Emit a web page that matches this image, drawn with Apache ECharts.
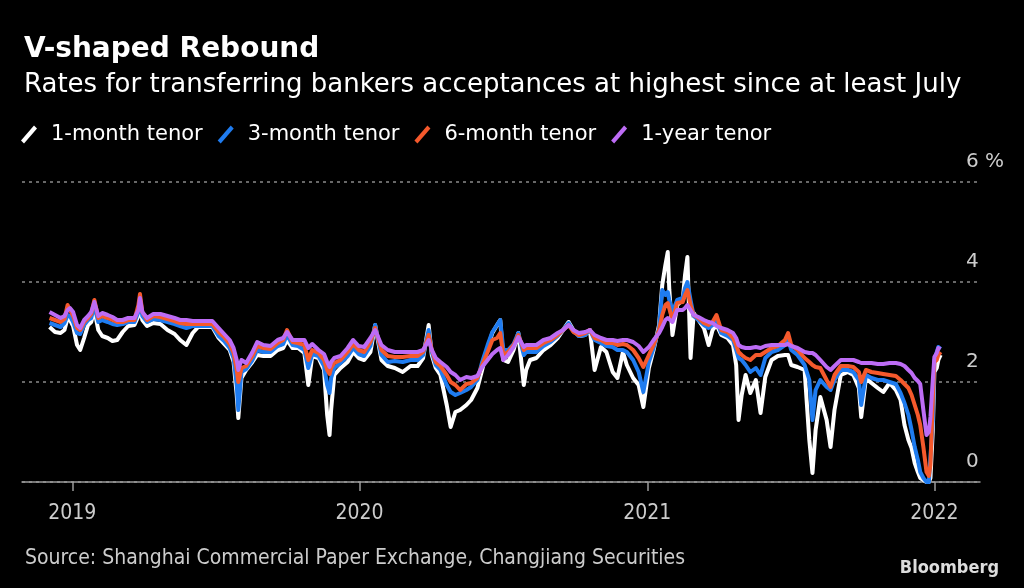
<!DOCTYPE html>
<html>
<head>
<meta charset="utf-8">
<script src="https://cdn.jsdelivr.net/npm/echarts@6/dist/echarts.min.js"></script>
<style>
  html, body { margin: 0; padding: 0; background: #000; }
  #main { width: 1024px; height: 588px; }
</style>
</head>
<body>
<div id="main"></div>
<script>
var dates = ['2018-12-03','2018-12-10','2018-12-17','2018-12-22','2018-12-26','2018-12-29','2019-01-02','2019-01-07','2019-01-11','2019-01-16',
  '2019-01-21','2019-01-25','2019-01-29','2019-02-03','2019-02-08','2019-02-15','2019-02-21','2019-02-27','2019-03-06','2019-03-13',
  '2019-03-21','2019-03-26','2019-03-28','2019-03-31','2019-04-06','2019-04-14','2019-04-23','2019-05-02','2019-05-11','2019-05-18',
  '2019-05-26','2019-06-03','2019-06-10','2019-06-19','2019-06-28','2019-07-06','2019-07-13','2019-07-20','2019-07-25','2019-07-29',
  '2019-07-31','2019-08-04','2019-08-10','2019-08-18','2019-08-24','2019-09-01','2019-09-10','2019-09-19','2019-09-26','2019-10-01',
  '2019-10-08','2019-10-15','2019-10-23','2019-10-28','2019-11-02','2019-11-10','2019-11-17','2019-11-21','2019-11-24','2019-11-26',
  '2019-11-30','2019-12-08','2019-12-17','2019-12-24','2019-12-31','2020-01-07','2020-01-15','2020-01-21','2020-01-29','2020-02-06',
  '2020-02-15','2020-02-25','2020-03-06','2020-03-15','2020-03-22','2020-03-29','2020-04-02','2020-04-07','2020-04-13','2020-04-21',
  '2020-04-26','2020-05-02','2020-05-08','2020-05-16','2020-05-22','2020-05-30','2020-06-05','2020-06-12','2020-06-18','2020-06-24',
  '2020-06-28','2020-07-02','2020-07-08','2020-07-15','2020-07-21','2020-07-28','2020-07-31','2020-08-05','2020-08-13','2020-08-22',
  '2020-08-31','2020-09-09','2020-09-16','2020-09-23','2020-09-29','2020-10-06','2020-10-14','2020-10-20','2020-10-26','2020-11-03',
  '2020-11-10','2020-11-18','2020-11-24','2020-12-01','2020-12-06','2020-12-14','2020-12-21','2020-12-27','2021-01-03','2021-01-09',
  '2021-01-16','2021-01-20','2021-01-24','2021-01-27','2021-01-29','2021-02-02','2021-02-08','2021-02-15','2021-02-18','2021-02-21',
  '2021-02-25','2021-03-01','2021-03-07','2021-03-14','2021-03-20','2021-03-25','2021-03-30','2021-04-05','2021-04-13','2021-04-20',
  '2021-04-24','2021-04-27','2021-05-01','2021-05-06','2021-05-12','2021-05-19','2021-05-25','2021-05-31','2021-06-08','2021-06-16',
  '2021-06-25','2021-06-29','2021-07-03','2021-07-11','2021-07-20','2021-07-26','2021-07-30','2021-08-03','2021-08-09','2021-08-17',
  '2021-08-22','2021-08-27','2021-09-04','2021-09-13','2021-09-20','2021-09-27','2021-09-30','2021-10-06','2021-10-13','2021-10-21',
  '2021-10-28','2021-11-05','2021-11-13','2021-11-19','2021-11-24','2021-11-29','2021-12-03','2021-12-07','2021-12-11','2021-12-14',
  '2021-12-18','2021-12-22','2021-12-25','2021-12-27','2021-12-30','2022-01-01','2022-01-04','2022-01-06','2022-01-09'];

// 1-month tenor (white)
var oneMonth = [3.10,3.00,2.98,3.04,3.28,3.24,3.12,2.74,2.64,2.88,
  3.14,3.20,3.44,3.04,2.92,2.88,2.82,2.84,3.00,3.12,
  3.14,3.32,3.54,3.24,3.12,3.18,3.16,3.04,2.96,2.84,
  2.74,2.98,3.10,3.10,3.10,2.88,2.76,2.64,2.40,1.74,
  1.28,2.08,2.24,2.40,2.54,2.52,2.52,2.64,2.68,2.84,
  2.68,2.68,2.58,1.94,2.52,2.48,2.24,1.34,0.94,1.44,
  2.14,2.28,2.40,2.60,2.48,2.44,2.60,3.14,2.44,2.32,
  2.28,2.20,2.32,2.32,2.48,3.14,2.54,2.28,2.14,1.54,
  1.10,1.40,1.44,1.54,1.64,1.88,2.24,2.68,2.98,3.14,
  3.24,2.44,2.40,2.64,2.98,1.94,2.24,2.44,2.48,2.64,
  2.74,2.88,3.04,3.20,3.04,2.92,2.94,3.04,2.24,2.70,
  2.60,2.20,2.08,2.60,2.34,2.08,1.94,1.50,2.28,2.64,
  3.14,3.94,4.34,4.60,3.84,2.94,3.54,3.64,4.14,4.50,
  2.48,3.38,3.24,3.08,2.74,3.04,3.14,2.94,2.88,2.74,
  2.34,1.24,1.74,2.14,1.78,2.04,1.38,2.10,2.44,2.52,
  2.54,2.54,2.34,2.30,2.24,0.84,0.18,1.04,1.70,1.24,
  0.70,1.44,2.14,2.20,2.14,1.88,1.30,2.08,1.98,1.88,
  1.80,1.98,1.84,1.64,1.14,0.84,0.68,0.38,0.20,0.08,
  0.04,0.00,0.00,0.08,1.04,2.20,2.28,2.44,2.54];

// 3-month tenor (blue)
var threeMonth = [3.18,3.14,3.10,3.18,3.34,3.32,3.20,2.98,2.96,3.14,
  3.24,3.28,3.52,3.20,3.24,3.20,3.16,3.14,3.16,3.20,
  3.20,3.40,3.64,3.32,3.20,3.26,3.24,3.20,3.16,3.12,
  3.08,3.12,3.12,3.12,3.12,2.92,2.82,2.68,2.48,1.94,
  1.44,2.20,2.26,2.44,2.64,2.60,2.60,2.72,2.76,2.94,
  2.74,2.72,2.64,2.28,2.56,2.52,2.32,1.94,1.78,2.08,
  2.28,2.38,2.52,2.68,2.56,2.52,2.72,3.14,2.54,2.40,
  2.42,2.40,2.44,2.44,2.54,3.04,2.60,2.34,2.24,1.94,
  1.80,1.74,1.78,1.84,1.90,2.04,2.40,2.74,3.00,3.14,
  3.24,2.64,2.64,2.76,2.98,2.54,2.60,2.60,2.60,2.72,
  2.80,2.92,3.04,3.18,3.02,2.92,2.94,3.04,2.84,2.78,
  2.72,2.70,2.64,2.64,2.60,2.44,2.20,1.80,2.40,2.68,
  3.08,3.84,3.74,3.80,3.64,3.40,3.64,3.68,3.88,4.00,
  3.64,3.32,3.24,3.14,3.08,3.14,3.24,2.98,2.92,2.84,
  2.64,2.48,2.44,2.34,2.20,2.28,2.14,2.48,2.60,2.64,
  2.74,2.84,2.64,2.54,2.34,2.04,1.24,1.84,2.04,1.90,
  1.84,2.04,2.24,2.24,2.20,2.04,1.54,2.14,2.08,2.04,
  2.04,2.00,1.96,1.78,1.58,1.34,1.04,0.70,0.44,0.20,
  0.08,0.00,0.00,0.04,1.24,2.44,2.60,2.70,2.66];

// 6-month tenor (orange)
var sixMonth = [3.28,3.24,3.20,3.26,3.54,3.44,3.32,3.08,3.04,3.20,
  3.28,3.36,3.64,3.28,3.32,3.28,3.24,3.20,3.20,3.24,
  3.24,3.54,3.76,3.40,3.24,3.32,3.30,3.26,3.22,3.18,
  3.16,3.16,3.16,3.16,3.16,3.00,2.90,2.76,2.58,2.24,
  2.00,2.28,2.32,2.52,2.72,2.68,2.66,2.78,2.84,3.04,
  2.80,2.78,2.74,2.44,2.64,2.58,2.44,2.24,2.16,2.28,
  2.38,2.44,2.60,2.76,2.64,2.60,2.80,3.08,2.64,2.52,
  2.50,2.50,2.52,2.52,2.60,2.94,2.64,2.40,2.32,2.14,
  2.00,1.94,1.84,1.96,1.98,2.08,2.34,2.60,2.84,2.88,
  2.98,2.54,2.60,2.74,2.94,2.64,2.68,2.68,2.68,2.78,
  2.84,2.94,3.04,3.14,3.00,2.94,2.98,3.04,2.88,2.84,
  2.78,2.78,2.74,2.76,2.74,2.64,2.48,2.30,2.54,2.74,
  3.04,3.34,3.54,3.58,3.54,3.24,3.58,3.60,3.74,3.84,
  3.54,3.34,3.28,3.18,3.14,3.20,3.34,3.04,3.00,2.88,
  2.74,2.60,2.54,2.48,2.44,2.54,2.54,2.60,2.68,2.72,
  2.84,2.98,2.74,2.64,2.48,2.40,2.34,2.30,2.28,2.04,
  1.90,2.14,2.32,2.32,2.30,2.20,2.00,2.24,2.20,2.18,
  2.16,2.14,2.12,2.04,1.96,1.88,1.74,1.54,1.34,1.14,
  0.70,0.20,0.12,0.34,1.64,2.40,2.44,2.54,2.60];

// 1-year tenor (purple)
var oneYear = [3.40,3.34,3.28,3.32,3.44,3.48,3.40,3.14,3.08,3.24,
  3.32,3.40,3.60,3.32,3.38,3.34,3.30,3.24,3.24,3.28,
  3.28,3.44,3.68,3.40,3.28,3.36,3.36,3.32,3.28,3.24,
  3.24,3.22,3.22,3.22,3.22,3.08,2.96,2.84,2.68,2.44,
  2.24,2.44,2.38,2.60,2.80,2.74,2.72,2.84,2.88,3.00,
  2.84,2.84,2.84,2.68,2.76,2.64,2.56,2.40,2.30,2.40,
  2.48,2.52,2.68,2.84,2.72,2.70,2.88,3.04,2.74,2.64,
  2.60,2.60,2.60,2.60,2.64,2.84,2.64,2.48,2.40,2.30,
  2.20,2.14,2.04,2.10,2.08,2.12,2.30,2.44,2.56,2.64,
  2.68,2.44,2.54,2.70,2.90,2.70,2.74,2.74,2.74,2.84,
  2.88,2.98,3.04,3.14,3.04,2.98,3.00,3.04,2.94,2.88,
  2.84,2.84,2.82,2.84,2.84,2.80,2.72,2.60,2.70,2.84,
  2.98,3.10,3.24,3.28,3.28,3.20,3.44,3.44,3.48,3.54,
  3.44,3.34,3.30,3.24,3.20,3.18,3.12,3.08,3.04,2.98,
  2.88,2.74,2.70,2.68,2.68,2.70,2.68,2.72,2.74,2.74,
  2.74,2.76,2.72,2.68,2.60,2.58,2.58,2.54,2.44,2.30,
  2.24,2.32,2.44,2.44,2.44,2.40,2.38,2.38,2.38,2.36,
  2.36,2.38,2.38,2.36,2.32,2.24,2.18,2.08,2.02,1.96,
  1.44,0.94,1.00,1.30,2.04,2.50,2.58,2.68,2.66];

var seriesNames = ['1-month tenor', '3-month tenor', '6-month tenor', '1-year tenor'];
var seriesColors = ['#ffffff', '#1f7cf0', '#f5592c', '#bd6cf5'];
var yearTicks = ['2019-01-01', '2020-01-01', '2021-01-01', '2022-01-01'];
var xStart = '2018-10-29';
var xEnd = '2022-02-28';

var chartDom = document.getElementById('main');
var myChart = echarts.init(chartDom);

// dates are parsed as UTC timestamps and placed on a value axis
function ts(d) { return Date.parse(d); }
function pairs(arr) {
  return dates.map(function (d, i) { return [ts(d), arr[i]]; });
}

var slashIcon = 'path://M0,15 L13,0 L16,3 L3,18 Z';
var allValues = [oneMonth, threeMonth, sixMonth, oneYear];
var yearStamps = yearTicks.map(ts);

var option = {
  backgroundColor: '#000000',
  animation: false,
  title: [
    {
      text: 'V-shaped Rebound',
      left: 19, top: 31,
      textStyle: { color: '#ffffff', fontSize: 28, fontWeight: 'bold', fontFamily: 'DejaVu Sans' }
    },
    {
      text: 'Rates for transferring bankers acceptances at highest since at least July',
      left: 19, top: 67,
      textStyle: { color: '#ffffff', fontSize: 26, fontWeight: 'normal', fontFamily: 'DejaVu Sans' }
    },
    {
      text: 'Source: Shanghai Commercial Paper Exchange, Changjiang Securities',
      left: 20, top: 543,
      textStyle: { color: '#cccccc', fontSize: 21, fontWeight: 'normal', fontFamily: 'DejaVu Sans Condensed' }
    },
    {
      text: 'Bloomberg',
      right: 20, top: 554,
      textStyle: { color: '#dddddd', fontSize: 18, fontWeight: 'bold', fontFamily: 'DejaVu Sans Condensed' }
    }
  ],
  legend: {
    left: 16, top: 119,
    itemWidth: 18, itemHeight: 18, itemGap: 15,
    icon: slashIcon,
    textStyle: { color: '#ffffff', fontSize: 21, fontFamily: 'DejaVu Sans', padding: [0, 0, 0, 8] },
    data: seriesNames
  },
  grid: { left: 22, right: 44, top: 182, bottom: 106, containLabel: false },
  xAxis: {
    type: 'value',
    min: ts(xStart),
    max: ts(xEnd),
    axisLine: { show: true, lineStyle: { color: '#9a9a9a', width: 1.5 } },
    axisTick: { show: true, length: 9, lineStyle: { color: '#9a9a9a', width: 1.5 }, customValues: yearStamps },
    axisLabel: {
      customValues: yearStamps,
      color: '#cccccc', fontSize: 21, fontFamily: 'DejaVu Sans Condensed', margin: 21,
      formatter: function (v) { return String(new Date(v).getUTCFullYear()); }
    },
    splitLine: { show: false }
  },
  yAxis: {
    type: 'value',
    position: 'right',
    min: 0, max: 6, interval: 2,
    axisLine: { show: false },
    axisTick: { show: false },
    axisLabel: {
      inside: true,
      align: 'left',
      verticalAlign: 'bottom',
      margin: 14,
      padding: [0, 0, 10, 0],
      color: '#cccccc', fontSize: 20, fontFamily: 'DejaVu Sans',
      formatter: function (v) { return v === 6 ? '6 %' : String(v); }
    },
    splitLine: { show: true, lineStyle: { color: '#8a8a8a', type: [3, 4], width: 1.5 } }
  },
  series: seriesNames.map(function (name, k) {
    return {
      name: name,
      type: 'line',
      showSymbol: false,
      symbol: 'none',
      color: seriesColors[k],
      lineStyle: { width: 4, color: seriesColors[k], join: 'round' },
      data: pairs(allValues[k]),
      z: 2 + k
    };
  })
};

myChart.setOption(option);
</script>
</body>
</html>
